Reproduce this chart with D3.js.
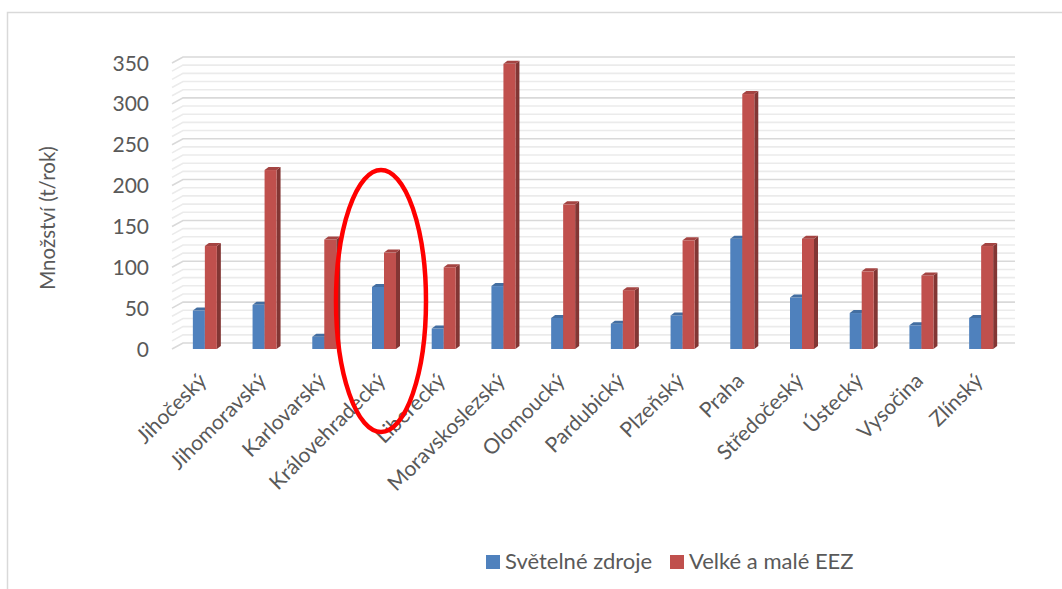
<!DOCTYPE html>
<html>
<head>
<meta charset="utf-8">
<script src="https://cdn.jsdelivr.net/npm/d3@7/dist/d3.min.js"></script>
<style>
  html, body { margin: 0; padding: 0; background: #fff; }
  svg { display: block; font-family: Lato, "Open Sans", sans-serif; }
</style>
</head>
<body>
<svg id="chart" width="1062" height="589"></svg>
<script>
// Kraje a množství (t/rok)
const categories = ["Jihočeský", "Jihomoravský", "Karlovarský", "Královehradecký", "Liberecký",
  "Moravskoslezský", "Olomoucký", "Pardubický", "Plzeňský", "Praha", "Středočeský",
  "Ústecký", "Vysočina", "Zlínský"];
const svetelneZdroje = [47, 54, 15, 76, 25, 77, 38, 31, 41, 135, 63, 44, 29, 38];
const velkeMaleEEZ = [126, 219, 134, 118, 100, 349, 177, 72, 133, 312, 135, 95, 90, 126];
const seriesNames = ["Světelné zdroje", "Velké a malé EEZ"];
const majorTicks = [0, 50, 100, 150, 200, 250, 300, 350];
const minorTicks = d3.range(0, 351, 10).filter(v => v % 50 !== 0);
const axisTitle = "Množství (t/rok)";

const colors = ["#4f81bd", "#c0504d"];
const textColor = "#595959";

const svg = d3.select("#chart");

// outer chart frame (top and left edges visible)
svg.append("path")
  .attr("d", "M7.5,589 L7.5,12.5 L1062,12.5")
  .attr("fill", "none").attr("stroke", "#d9d9d9").attr("stroke-width", 1.5);

const y = d3.scaleLinear().domain([0, 350]).range([349, 63]);
const x = d3.scaleBand().domain(categories).range([175, 1011]).padding(0);

// 3D depth offset of the back wall
const depthX = 11, depthY = -6;
const wallLeft = 172, wallRight = 1015;

const grid = svg.append("g");
function gridLine(v, color) {
  const yf = y(v);
  grid.append("path")
    .attr("d", `M${wallLeft},${yf} L${wallLeft + depthX},${yf + depthY} L${wallRight},${yf + depthY}`)
    .attr("fill", "none").attr("stroke", color).attr("stroke-width", 1.6);
}
minorTicks.forEach(v => gridLine(v, "#ebebeb"));
majorTicks.forEach(v => gridLine(v, "#d9d9d9"));

// value axis labels
svg.append("g").selectAll("text")
  .data(majorTicks).join("text")
  .attr("x", 149).attr("y", d => y(d))
  .attr("dy", "0.36em")
  .attr("text-anchor", "end")
  .attr("font-size", 21).attr("fill", textColor)
  .text(d => d);

// axis title
svg.append("text")
  .attr("transform", "translate(55,218) rotate(-90)")
  .attr("text-anchor", "middle")
  .attr("font-size", 20.5).attr("fill", textColor)
  .text(axisTitle);

// 3D columns
const barW = 12, sideX = 4, sideY = -3;
const shade = (c, k) => d3.color(c).darker(k).formatHex();

const bars = svg.append("g");
categories.forEach((cat, i) => {
  const cx = x(cat) + x.bandwidth() / 2;
  const vals = [svetelneZdroje[i], velkeMaleEEZ[i]];
  vals.forEach((v, s) => {
    const x0 = cx - barW + s * barW;
    const yt = y(v), yb = y(0);
    const g = bars.append("g");
    // side face
    g.append("path")
      .attr("d", `M${x0 + barW},${yb} L${x0 + barW},${yt} L${x0 + barW + sideX},${yt + sideY} L${x0 + barW + sideX},${yb + sideY} Z`)
      .attr("fill", shade(colors[s], 1.1));
    // front face
    g.append("rect")
      .attr("x", x0).attr("y", yt)
      .attr("width", barW).attr("height", yb - yt)
      .attr("fill", colors[s]);
    // top face
    g.append("path")
      .attr("d", `M${x0},${yt} L${x0 + barW},${yt} L${x0 + barW + sideX},${yt + sideY} L${x0 + sideX},${yt + sideY} Z`)
      .attr("fill", shade(colors[s], 0.45));
  });
});

// category labels
svg.append("g").selectAll("text")
  .data(categories).join("text")
  .attr("transform", d => `translate(${x(d) + x.bandwidth() / 2 + 3},382) rotate(-45)`)
  .attr("text-anchor", "end")
  .attr("font-size", 21).attr("fill", textColor)
  .text(d => d);

// highlight ellipse
svg.append("ellipse")
  .attr("cx", 381).attr("cy", 301)
  .attr("rx", 45).attr("ry", 131)
  .attr("fill", "none").attr("stroke", "#ff0000").attr("stroke-width", 4.5);

// legend
const legend = svg.append("g");
const legendX = [486, 670];
seriesNames.forEach((name, s) => {
  legend.append("rect")
    .attr("x", legendX[s]).attr("y", 555)
    .attr("width", 14).attr("height", 14)
    .attr("fill", colors[s]);
  legend.append("text")
    .attr("x", legendX[s] + 19).attr("y", 569)
    .attr("font-size", 22).attr("fill", textColor)
    .text(name);
});
</script>
</body>
</html>
